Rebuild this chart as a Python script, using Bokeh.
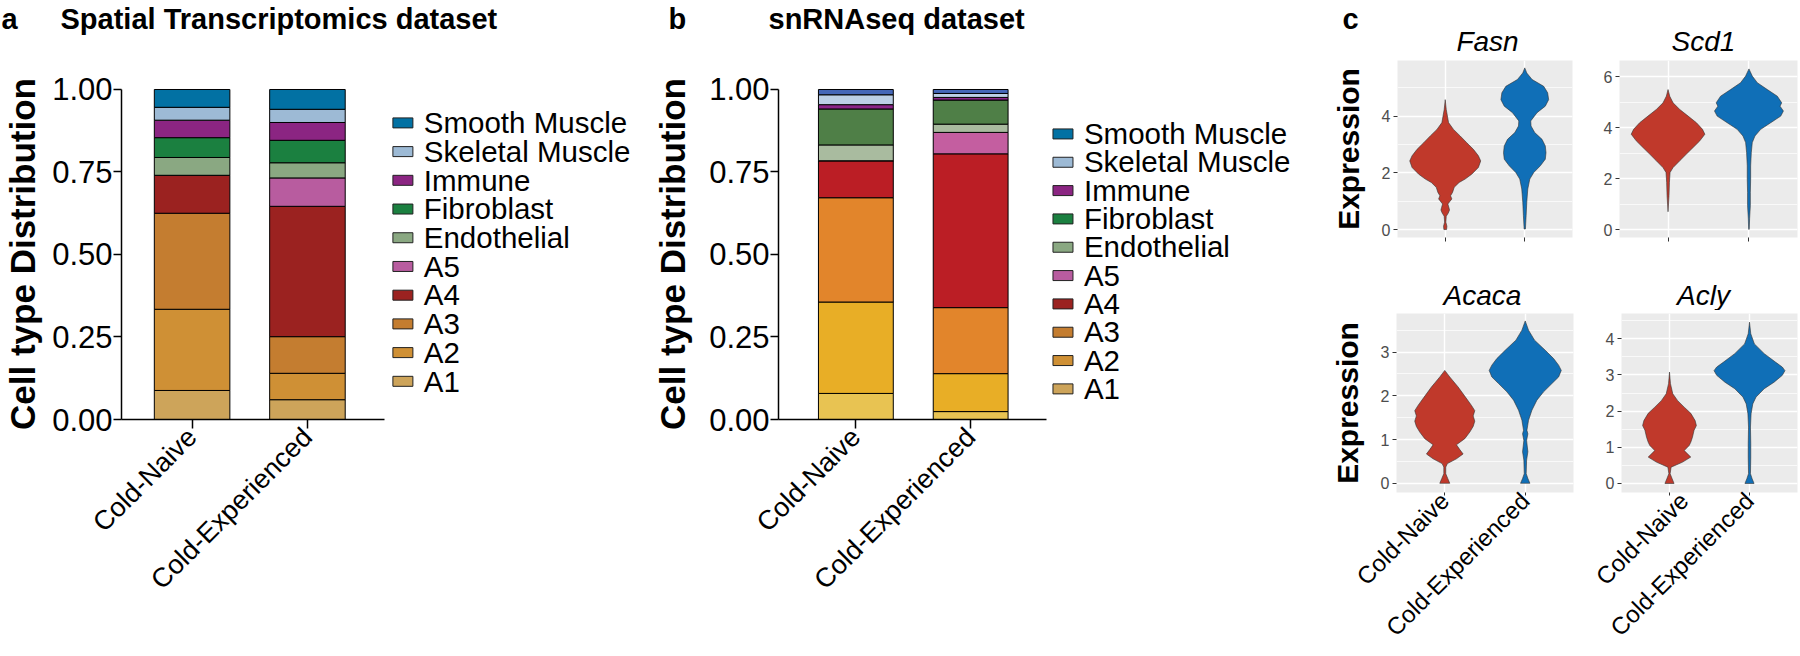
import math
from bokeh.plotting import figure
from bokeh.models import (ColumnDataSource, Range1d, FixedTicker, SingleIntervalTicker,
                          NumeralTickFormatter)
from bokeh.core.properties import value
from bokeh.layouts import row, column
from bokeh.embed import file_html
from bokeh.resources import INLINE

FONT = "Liberation Sans"

# ---------------- data ----------------
groups = ["Cold-Naive", "Cold-Experienced"]
group_pos = [1, 2]
cell_types = ["A1", "A2", "A3", "A4", "A5", "Endothelial", "Fibroblast",
              "Immune", "Skeletal Muscle", "Smooth Muscle"]

spatial_naive = [0.088, 0.246, 0.291, 0.115, 0.000, 0.054, 0.060, 0.053, 0.039, 0.054]
spatial_exp = [0.060, 0.080, 0.111, 0.395, 0.086, 0.046, 0.068, 0.054, 0.040, 0.060]
snrna_naive = [0.079, 0.277, 0.316, 0.112, 0.000, 0.048, 0.109, 0.013, 0.030, 0.016]
snrna_exp = [0.024, 0.115, 0.200, 0.466, 0.065, 0.025, 0.073, 0.008, 0.012, 0.012]

colors_a = ["#cda45a", "#cf9035", "#c47d30", "#9b2220", "#b85c9f",
            "#8aa882", "#1b8040", "#8b2582", "#9dbad5", "#0271a3"]
colors_b = ["#e8c352", "#e8ae26", "#e2852b", "#bb1e25", "#c45ea0",
            "#a9bb9f", "#4f7f47", "#8a2487", "#bccfe6", "#4567b8"]

y_ticks_bar = [0, 0.25, 0.5, 0.75, 1.0]

panel_letters = ["a", "b", "c"]
panel_titles = ["Spatial Transcriptomics dataset", "snRNAseq dataset"]
genes_top = ["Fasn", "Scd1"]
genes_bottom = ["Acaca", "Acly"]

# violin outlines: expression level (top -> bottom) and half width (category units)
fasn_naive_y = [4.58, 4.23, 3.77, 3.53, 3.30, 3.06, 2.83, 2.60, 2.42, 2.19, 1.95, 1.78, 1.66,
                1.49, 1.31, 1.19, 1.08, 0.90, 0.78, 0.69, 0.58, 0.47, 0.26, 0.12, 0.00]
fasn_naive_w = [0.0, 0.013, 0.042, 0.104, 0.188, 0.271, 0.354, 0.417, 0.446, 0.417, 0.333, 0.250,
                0.175, 0.113, 0.092, 0.067, 0.083, 0.033, 0.046, 0.054, 0.038, 0.013, 0.008,
                0.021, 0.017]
fasn_exp_y = [5.70, 5.52, 5.29, 5.05, 4.82, 4.58, 4.35, 4.12, 3.83, 3.65, 3.42, 3.18, 2.95,
              2.71, 2.48, 2.25, 2.01, 1.78, 1.43, 0.96, 0.49, 0.02]
fasn_exp_w = [0.0, 0.025, 0.092, 0.238, 0.288, 0.300, 0.258, 0.154, 0.075, 0.079, 0.125, 0.217,
              0.258, 0.267, 0.258, 0.196, 0.113, 0.063, 0.038, 0.025, 0.017, 0.008]

scd1_naive_y = [5.49, 5.23, 4.97, 4.71, 4.45, 4.19, 3.93, 3.74, 3.48, 3.22, 2.96, 2.70, 2.43,
                2.24, 1.85, 1.33, 0.70]
scd1_naive_w = [0.0, 0.021, 0.062, 0.145, 0.248, 0.351, 0.426, 0.455, 0.393, 0.310, 0.227,
                0.145, 0.062, 0.025, 0.017, 0.012, 0.0]
scd1_exp_y = [6.30, 6.02, 5.76, 5.49, 5.23, 4.97, 4.84, 4.65, 4.45, 4.19, 3.93, 3.67, 3.41,
              3.02, 2.50, 1.98, 1.46, 0.94, 0.42, 0.03, 0.0]
scd1_exp_w = [0.0, 0.041, 0.103, 0.227, 0.351, 0.405, 0.384, 0.426, 0.393, 0.269, 0.145, 0.074,
              0.041, 0.029, 0.021, 0.021, 0.017, 0.017, 0.008, 0.004, 0.0]

acaca_naive_y = [2.58, 2.43, 2.20, 1.97, 1.78, 1.66, 1.54, 1.42, 1.30, 1.17, 1.02, 0.88, 0.77,
                 0.67, 0.56, 0.45, 0.37, 0.22, 0.11, 0.00]
acaca_naive_w = [0.0, 0.062, 0.166, 0.257, 0.332, 0.373, 0.353, 0.373, 0.353, 0.311, 0.249,
                 0.145, 0.187, 0.228, 0.145, 0.033, 0.012, 0.012, 0.037, 0.062]
acaca_exp_y = [3.71, 3.50, 3.27, 3.04, 2.85, 2.70, 2.58, 2.43, 2.28, 2.09, 1.90, 1.67, 1.44,
               1.21, 1.13, 0.98, 0.72, 0.53, 0.22, 0.11, 0.00]
acaca_exp_w = [0.0, 0.041, 0.116, 0.249, 0.353, 0.415, 0.448, 0.415, 0.332, 0.228, 0.145, 0.083,
               0.041, 0.021, 0.033, 0.017, 0.033, 0.017, 0.012, 0.033, 0.058]

acly_naive_y = [3.08, 2.76, 2.48, 2.29, 2.11, 1.94, 1.74, 1.60, 1.47, 1.28, 1.14, 1.05, 0.91,
                0.73, 0.59, 0.45, 0.27, 0.13, 0.00]
acly_naive_w = [0.0, 0.012, 0.041, 0.102, 0.184, 0.266, 0.320, 0.336, 0.307, 0.287, 0.266,
                0.246, 0.184, 0.266, 0.164, 0.020, 0.008, 0.033, 0.057]
acly_exp_y = [4.46, 4.14, 3.86, 3.59, 3.35, 3.22, 3.12, 2.99, 2.80, 2.62, 2.39, 2.20, 1.93,
              1.56, 1.10, 0.73, 0.27, 0.13, 0.00]
acly_exp_w = [0.0, 0.016, 0.061, 0.184, 0.328, 0.410, 0.443, 0.410, 0.307, 0.184, 0.082, 0.041,
              0.020, 0.012, 0.016, 0.016, 0.012, 0.033, 0.057]

naive_color = "#c0392b"
exp_color = "#106fb7"

# text glyphs render about 0.3 em below the requested alphabetic baseline
BASELINE_FIX = 0.3
CAP_HALF = 0.358


def text_strip(width, height):
    p = figure(width=width, height=height, x_range=Range1d(0, width),
               y_range=Range1d(height, 0), x_axis_type=None, y_axis_type=None,
               output_backend="svg", toolbar_location=None, title=None,
               min_border=0, min_border_left=0, min_border_right=0,
               min_border_top=0, min_border_bottom=0)
    p.outline_line_color = None
    p.xgrid.visible = False
    p.ygrid.visible = False
    return p


def put_text(p, xs, baselines, texts, size_px, style, align):
    ys = [b - BASELINE_FIX * size_px for b in baselines]
    p.text(x=xs, y=ys, text=texts, text_font=value(FONT),
           text_font_size=value(f"{size_px}px"),
           text_font_style=value(style), text_align=value(align),
           text_baseline=value("alphabetic"), text_color="black")


def bar_panel(fig_w, fig_h, page_left, page_top, fl, fr, ft, fb, naive, exp, fills,
              xr_start, px_per_unit, xr_end_axis, bar_w, key_left, key_top, key_pitch,
              ylab_standoff):
    x_end = xr_start + (fr - fl) / px_per_unit
    y_end = 1.003
    p = figure(width=fig_w, height=fig_h, x_range=Range1d(xr_start, x_end),
               y_range=Range1d(0, y_end), output_backend="svg", toolbar_location=None,
               title=None,
               min_border_left=fl - page_left, min_border_right=page_left + fig_w - fr,
               min_border_top=ft - page_top, min_border_bottom=page_top + fig_h - fb)
    p.outline_line_color = None
    p.xgrid.visible = False
    p.ygrid.visible = False

    def dx(px):
        return xr_start + (px - fl) / px_per_unit

    def dy(py):
        return (fb - py) / (fb - ft) * y_end

    data = {"x": group_pos}
    for i, ct in enumerate(cell_types):
        data[ct] = [naive[i], exp[i]]
    src = ColumnDataSource(data)
    p.vbar_stack(cell_types, x="x", width=bar_w, fill_color=fills,
                 line_color="black", line_width=1, source=src)

    # key (same colours in both panels), listed top to bottom
    key_labels = list(reversed(cell_types))
    key_colors = list(reversed(colors_a))
    n = len(key_labels)
    centers = [key_top + i * key_pitch for i in range(n)]
    p.rect(x=[dx(key_left + 10)] * n, y=[dy(c) for c in centers], width=20, height=10,
           width_units="screen", height_units="screen", fill_color=key_colors,
           line_color="#222222", line_width=1)
    fs = 29.5
    base = [c + CAP_HALF * fs - 2 - BASELINE_FIX * fs for c in centers]
    p.text(x=[dx(key_left + 31)] * n, y=[dy(b) for b in base], text=key_labels,
           text_font=value(FONT), text_font_size=value(f"{fs}px"),
           text_baseline=value("alphabetic"), text_align=value("left"), text_color="black")

    for ax in (p.xaxis[0], p.yaxis[0]):
        ax.axis_line_width = 1.5
        ax.axis_line_color = "black"
        ax.major_tick_line_width = 1.5
        ax.major_tick_line_color = "black"
        ax.major_tick_in = 0
        ax.minor_tick_in = 0
        ax.minor_tick_out = 0
        ax.major_label_text_font = FONT
        ax.major_label_text_color = "black"
    p.xaxis.bounds = (xr_start, xr_end_axis)
    p.xaxis.ticker = FixedTicker(ticks=group_pos)
    p.xaxis.major_label_overrides = {1: groups[0], 2: groups[1]}
    p.xaxis.major_label_orientation = math.pi / 4
    p.xaxis.major_label_text_font_size = "27px"
    p.xaxis.major_tick_out = 9
    p.xaxis.major_label_standoff = 4
    p.yaxis.bounds = (0, 1)
    p.yaxis.ticker = FixedTicker(ticks=y_ticks_bar)
    p.yaxis.formatter = NumeralTickFormatter(format="0.00")
    p.yaxis.major_label_text_font_size = "31px"
    p.yaxis.major_tick_out = 8
    p.yaxis.major_label_standoff = 1
    p.yaxis.axis_label = "Cell type Distribution"
    p.yaxis.axis_label_text_font = FONT
    p.yaxis.axis_label_text_font_size = "35px"
    p.yaxis.axis_label_text_font_style = "bold"
    p.yaxis.axis_label_text_color = "black"
    p.yaxis.axis_label_standoff = ylab_standoff
    return p


def violin_panel(fig_w, fig_h, page_left, page_top, fl, fr, ft, fb, yr, yint,
                 ny, nw, ey, ew, ylabel, xlabels):
    p = figure(width=fig_w, height=fig_h, x_range=Range1d(0.4, 2.6), y_range=Range1d(*yr),
               output_backend="svg", toolbar_location=None, title=None,
               min_border_left=fl - page_left, min_border_right=page_left + fig_w - fr,
               min_border_top=ft - page_top, min_border_bottom=page_top + fig_h - fb,
               background_fill_color="#ebebeb")
    p.outline_line_color = None
    yt = SingleIntervalTicker(interval=yint, num_minor_ticks=2)
    p.yaxis.ticker = yt
    p.ygrid.ticker = yt
    p.xaxis.ticker = FixedTicker(ticks=group_pos)
    p.xgrid.ticker = FixedTicker(ticks=group_pos)
    p.ygrid.grid_line_color = "white"
    p.ygrid.grid_line_width = 1.4
    p.ygrid.minor_grid_line_color = "white"
    p.ygrid.minor_grid_line_width = 0.7
    p.xgrid.grid_line_color = "white"
    p.xgrid.grid_line_width = 1.4

    for c, ys, ws, col in ((1, ny, nw, naive_color), (2, ey, ew, exp_color)):
        xs = [c - w for w in ws] + [c + w for w in reversed(ws)]
        yy = list(ys) + list(reversed(ys))
        p.patch(xs, yy, fill_color=col, line_color="#333333", line_width=0.6)

    for ax in (p.xaxis[0], p.yaxis[0]):
        ax.axis_line_color = None
        ax.major_tick_line_color = "#333333"
        ax.major_tick_line_width = 1
        ax.major_tick_in = 0
        ax.major_tick_out = 4
        ax.minor_tick_in = 0
        ax.minor_tick_out = 0
        ax.major_label_text_font = FONT
    p.yaxis.major_label_text_font_size = "16px"
    p.yaxis.major_label_text_color = "#4d4d4d"
    p.yaxis.major_label_standoff = 3
    if xlabels:
        p.xaxis.major_label_overrides = {1: groups[0], 2: groups[1]}
        p.xaxis.major_label_orientation = math.pi / 4
        p.xaxis.major_label_text_font_size = "24px"
        p.xaxis.major_label_text_color = "black"
        p.xaxis.major_label_standoff = 1
        p.xaxis.major_tick_out = 3
    else:
        p.xaxis.major_label_overrides = {1: "", 2: ""}
        p.xaxis.major_label_text_font_size = "10px"
    if ylabel:
        p.yaxis.axis_label = "Expression"
        p.yaxis.axis_label_text_font = FONT
        p.yaxis.axis_label_text_font_size = "30px"
        p.yaxis.axis_label_text_font_style = "bold"
        p.yaxis.axis_label_text_color = "black"
        p.yaxis.axis_label_standoff = 14
    return p


# header strip: panel letters, dataset titles, top gene names
HEAD_H = 57
header = text_strip(1800, HEAD_H)
put_text(header, [1, 668, 1342], [27, 27, 27], panel_letters, 29, "bold", "left")
put_text(header, [60, 768], [27, 27], panel_titles, 29, "bold", "left")
put_text(header, [1487, 1703], [49, 49], genes_top, 28, "italic", "center")

main_h = 656 - HEAD_H
figA = bar_panel(650, main_h, 0, HEAD_H, 118, 650, 88, 420, spatial_naive, spatial_exp,
                 colors_a, 0.388, 116, 2.664, 0.655, 391, 122.5, 28.8, 7)
figB = bar_panel(670, main_h, 650, HEAD_H, 777, 1320, 86, 419, snrna_naive, snrna_exp,
                 colors_b, 0.326, 115, 2.657, 0.652, 1052, 131.7, 28.5, 14)

row1_h = 275 - HEAD_H
c1 = violin_panel(270, row1_h, 1320, HEAD_H, 1397, 1572, 58, 237, (-0.28, 5.96), 2,
                  fasn_naive_y, fasn_naive_w, fasn_exp_y, fasn_exp_w, True, False)
c2 = violin_panel(210, row1_h, 1590, HEAD_H, 1619, 1797, 60, 237, (-0.31, 6.63), 2,
                  scd1_naive_y, scd1_naive_w, scd1_exp_y, scd1_exp_w, False, False)
strip2 = text_strip(480, 35)
put_text(strip2, [162, 383], [28, 28], genes_bottom, 28, "italic", "center")
c3 = violin_panel(270, 346, 1320, 310, 1396, 1573, 313, 492, (-0.21, 3.88), 1,
                  acaca_naive_y, acaca_naive_w, acaca_exp_y, acaca_exp_w, True, True)
c4 = violin_panel(210, 346, 1590, 310, 1621, 1797, 313, 492, (-0.25, 4.70), 1,
                  acly_naive_y, acly_naive_w, acly_exp_y, acly_exp_w, False, True)

panel_c = column(row(c1, c2, spacing=0), strip2, row(c3, c4, spacing=0), spacing=0)
layout = column(header, row(figA, figB, panel_c, spacing=0), spacing=0)

open("out.html", "w").write(file_html(layout, INLINE))
